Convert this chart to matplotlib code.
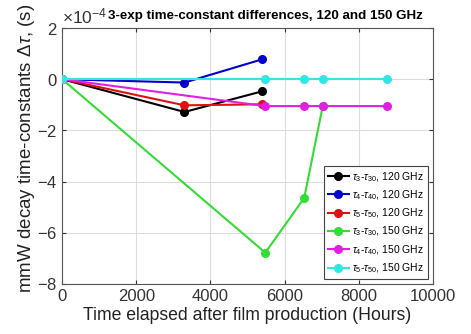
import numpy as np
import matplotlib
matplotlib.use("Agg")
import matplotlib.pyplot as plt
from matplotlib.ticker import ScalarFormatter

# time after film production (hours) and time-constant differences (s)
t_120 = [0, 3300, 5400]
d3_120 = [0, -1.28e-4, -0.47e-4]
d4_120 = [0, -0.13e-4, 0.78e-4]
d5_120 = [0, -1.02e-4, -0.98e-4]

t_150 = [0, 5480, 6530, 7030, 8750]
d3_150 = [0, -6.78e-4, -4.64e-4, -1.05e-4]
d4_150 = [0, -1.05e-4, -1.05e-4, -1.05e-4, -1.05e-4]
d5_150 = [0, 0.0, 0.0, 0.0, 0.0]

labels = [r"$\tau_3$-$\tau_{30}$, 120 GHz", r"$\tau_4$-$\tau_{40}$, 120 GHz",
          r"$\tau_5$-$\tau_{50}$, 120 GHz", r"$\tau_3$-$\tau_{30}$, 150 GHz",
          r"$\tau_4$-$\tau_{40}$, 150 GHz", r"$\tau_5$-$\tau_{50}$, 150 GHz"]
colors = ["#000000", "#0000cc", "#dd1111", "#33dd33", "#e020e0", "#33e6e6"]

plt.rcParams["font.family"] = ["Liberation Sans", "DejaVu Sans"]
plt.rcParams["axes.unicode_minus"] = False
plt.rcParams["mathtext.fontset"] = "custom"
plt.rcParams["mathtext.it"] = "Liberation Sans:italic"
plt.rcParams["mathtext.rm"] = "Liberation Sans"

fig = plt.figure(figsize=(4.71, 3.34), dpi=100)
ax = fig.add_axes([0.132, 0.150, 0.787, 0.766])

series = [(t_120, d3_120), (t_120, d4_120), (t_120, d5_120),
          (t_150[:4], d3_150), (t_150, d4_150), (t_150, d5_150)]
for i, ((x, y), col, lab) in enumerate(zip(series, colors, labels)):
    ax.plot(x, y, "-o", color=col, mfc=col, mec=col, lw=1.5, ms=5.5,
            label=lab, zorder=3 + i)

ax.set_xlim(0, 10000)
ax.set_ylim(-8e-4, 2e-4)
ax.set_xticks(np.arange(0, 10001, 2000))
ax.set_yticks(np.arange(-8e-4, 2.01e-4, 2e-4))
fmt = ScalarFormatter(useMathText=True)
fmt.set_powerlimits((0, 0))
ax.yaxis.set_major_formatter(fmt)
ax.yaxis.get_offset_text().set_fontsize(12.5)
ax.yaxis.get_offset_text().set_color("#444444")

ax.grid(True, color="#dddddd", lw=0.8)
ax.set_axisbelow(True)
ax.tick_params(direction="in", length=3, labelsize=12, colors="#333333",
               top=True, right=True)
for s in ax.spines.values():
    s.set_color("#555555")
    s.set_linewidth(0.8)

ax.set_xlabel("Time elapsed after film production (Hours)", fontsize=12.7,
              color="#222222", labelpad=2)
ax.set_ylabel(r"mmW decay time-constants $\Delta\tau$, (s)", fontsize=13.5,
              color="#222222")
ax.yaxis.set_label_coords(-0.068, 0.53)
fig.text(0.564, 0.953, "3-exp time-constant differences, 120 and 150 GHz",
         ha="center", va="center", fontsize=9.6, fontweight="bold")

leg = ax.legend(loc="lower right", fontsize=7.5, frameon=True, fancybox=False,
                edgecolor="#444444", framealpha=1, handlelength=2.0,
                handletextpad=0.3, labelspacing=0.45, borderaxespad=0.5,
                borderpad=0.35)
leg.get_frame().set_linewidth(0.8)

fig.savefig("out.png", dpi=100)
